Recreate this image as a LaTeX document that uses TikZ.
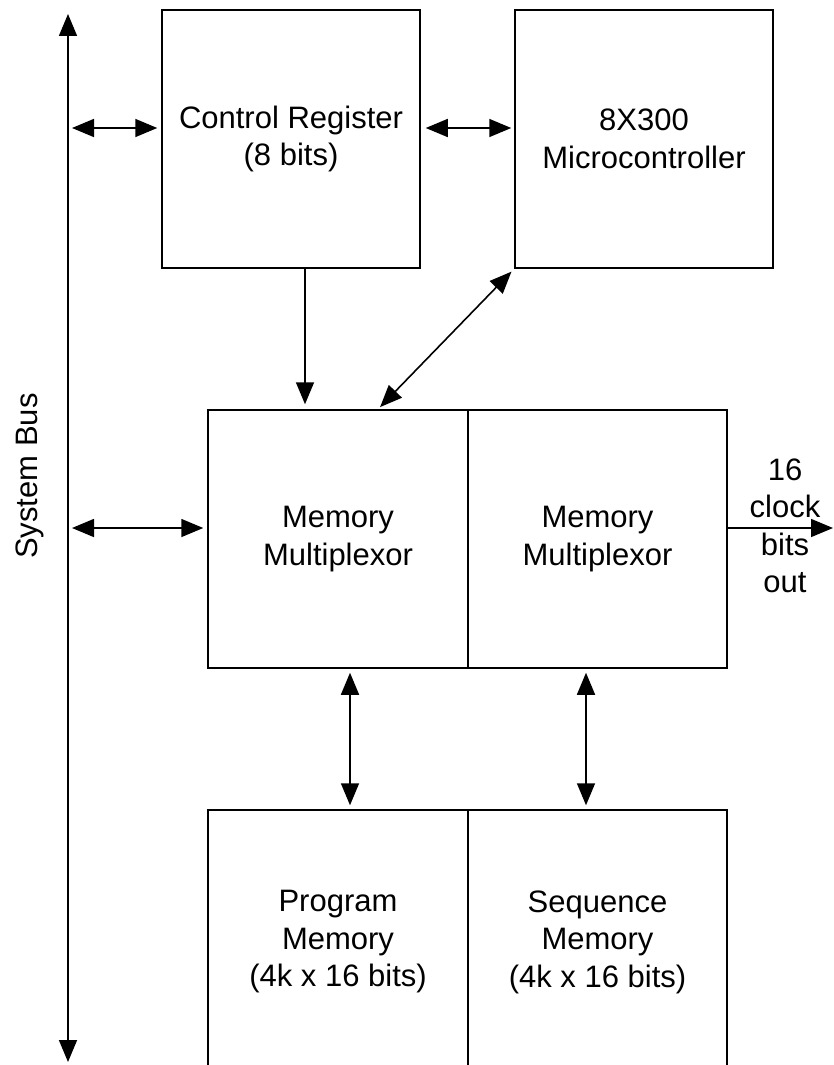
\documentclass[tikz,border=0pt]{standalone}
\usepackage{fontspec}
\setmainfont{Liberation Sans}
\usetikzlibrary{arrows.meta,positioning}

\tikzset{
  block/.style={draw, rectangle, line width=1.5pt, inner sep=0pt, align=center,
    minimum width=258pt, minimum height=258pt},
  biarrow/.style={{Triangle[length=22pt,width=18pt]}-{Triangle[length=22pt,width=18pt]}, line width=1.6pt},
  onearrow/.style={-{Triangle[length=22pt,width=18pt]}, line width=1.6pt}
}

\begin{document}
\begin{tikzpicture}[x=1pt, y=-1pt, font=\fontsize{31}{37.5}\selectfont]
  \useasboundingbox (0,0) rectangle (833,1065);
  \clip (0,0) rectangle (833,1065);
  % top row
  \node[block] (ctrlreg) at (291,139) {Control Register\\(8 bits)};
  \node[block] (uc) at (644,139) {8X300\\Microcontroller};
  % multiplexors
  \node[block, minimum width=260pt] (muxA) at (338,539) {Memory\\Multiplexor};
  \node[block, minimum width=259pt] (muxB) at (597.5,539) {Memory\\Multiplexor};
  % memories (run off the bottom edge)
  \node[block, minimum width=260pt, minimum height=264pt] (progmem) at (338,942) {Program\\Memory\\(4k x 16 bits)};
  \node[block, minimum width=259pt, minimum height=264pt] (seqmem) at (597.5,942) {Sequence\\Memory\\(4k x 16 bits)};
  % system bus
  \coordinate (bustop) at (68,14);
  \coordinate (busbot) at (68,1062);
  \coordinate (busA) at (68,128);
  \coordinate (busB) at (68,528);
  \draw[biarrow] (bustop) -- (busbot);
  \node[rotate=90] (buslbl) at (30,476) {System Bus};
  % connections
  \draw[biarrow, shorten <=4pt, shorten >=4pt] (busA) -- (busA -| ctrlreg.west);
  \draw[biarrow, shorten <=5pt, shorten >=3pt] ([yshift=11pt]ctrlreg.east) -- ([yshift=11pt]uc.west);
  \draw[onearrow, shorten >=5pt] ([xshift=14pt]ctrlreg.south) -- ([xshift=14pt]ctrlreg.south |- muxA.north);
  \draw[biarrow, shorten <=3pt, shorten >=4pt] ([xshift=40pt]muxA.north) -- (uc.south west);
  \draw[biarrow, shorten <=4pt, shorten >=4pt] (busB) -- (busB -| muxA.west);
  \draw[biarrow, shorten <=4pt, shorten >=4pt] ([xshift=12pt]muxA.south) -- ([xshift=12pt]progmem.north);
  \draw[biarrow, shorten <=4pt, shorten >=4pt] ([xshift=-11.5pt]muxB.south) -- ([xshift=-11.5pt]seqmem.north);
  % clock output
  \coordinate (clkout) at (833,528);
  \draw[onearrow] ([yshift=11pt]muxB.east) -- (clkout);
  \node[align=center] (clklbl) at (785,526) {16\\clock\\bits\\out};
\end{tikzpicture}
\end{document}
